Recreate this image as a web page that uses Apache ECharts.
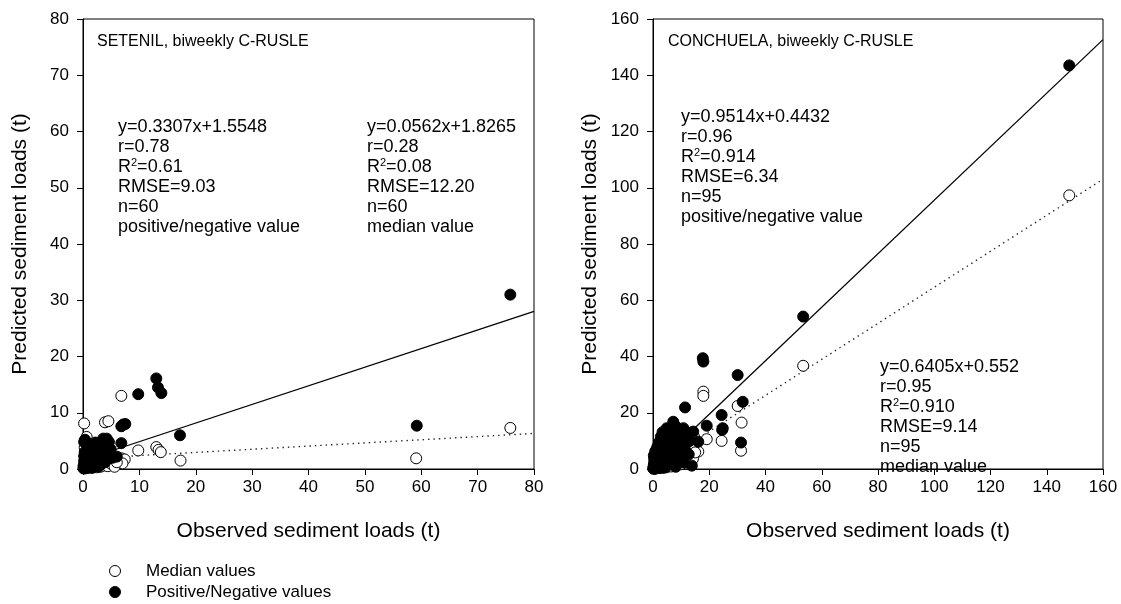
<!DOCTYPE html>
<html>
<head>
<meta charset="utf-8">
<script src="https://cdn.jsdelivr.net/npm/echarts@6/dist/echarts.min.js"></script>
<style>
  html, body { margin: 0; padding: 0; background: #fff; }
  #chart { width: 1121px; height: 604px; }
</style>
</head>
<body>
<div id="chart"></div>
<script>
// Observed vs. predicted sediment loads (t), two catchments, biweekly C-RUSLE

// --- SETENIL: median-value predictions [observed, predicted]
const setenilMedian = [
  [75.8, 7.3], [59.1, 1.9], [17.3, 1.5], [13.0, 3.9], [13.4, 3.4], [13.8, 3.0],
  [9.8, 3.3], [6.8, 13.0], [6.8, 1.9], [7.4, 1.7], [3.9, 8.3], [4.5, 8.5],
  [0.2, 8.1], [0.65, 5.7], [3.3, 0.7], [7.0, 1.0],
  [0.1, 0.2], [0.2, 0.5], [0.3, 0.1], [0.4, 1.1], [0.5, 0.3], [0.6, 2.0], [0.7, 0.6], [0.8, 1.5],
  [0.9, 0.2], [1.0, 3.0], [1.1, 0.8], [1.2, 0.4], [1.3, 2.4], [1.4, 1.0], [1.5, 0.3], [1.6, 1.8],
  [1.7, 0.6], [1.8, 3.5], [1.9, 1.2], [2.0, 0.5], [2.1, 2.2], [2.2, 0.9], [2.3, 1.6], [2.4, 0.3],
  [2.5, 2.8], [2.6, 1.1], [2.8, 0.7], [3.0, 1.9], [3.1, 0.4], [3.2, 2.5], [3.4, 1.3], [3.6, 0.6],
  [3.8, 3.1], [4.0, 1.0], [4.2, 2.0], [4.4, 0.5], [4.6, 1.5], [4.8, 2.6], [5.0, 0.9], [5.3, 1.8],
  [5.6, 0.4], [6.0, 1.2], [0.3, 3.8], [0.5, 4.6]
];

// --- SETENIL: positive/negative-value predictions [observed, predicted]
const setenilPosNeg = [
  [75.8, 31.0], [59.2, 7.7], [17.2, 6.0], [13.0, 16.1], [13.3, 14.5], [13.9, 13.5],
  [9.8, 13.3], [6.8, 7.6], [7.1, 7.9], [7.5, 8.0], [6.8, 4.6], [6.0, 2.2],
  [0.35, 5.2], [3.6, 5.4], [4.2, 5.4], [1.8, 4.0], [0.2, 4.8],
  [0.1, 0.1], [0.1, 0.6], [0.2, 1.4], [0.2, 2.3], [0.3, 0.3], [0.3, 3.0], [0.4, 1.0], [0.5, 0.5],
  [0.5, 1.9], [0.6, 2.8], [0.7, 0.2], [0.7, 1.3], [0.8, 3.6], [0.9, 0.7], [1.0, 2.1], [1.1, 0.4],
  [1.2, 1.6], [1.3, 3.2], [1.4, 0.9], [1.5, 2.5], [1.6, 0.2], [1.7, 1.2], [1.9, 2.9], [2.0, 0.6],
  [2.1, 1.8], [2.3, 3.4], [2.4, 1.0], [2.6, 2.2], [2.7, 0.4], [2.9, 1.5], [3.0, 3.7], [3.2, 0.8],
  [3.3, 2.7], [3.5, 1.9], [3.7, 4.4], [3.9, 1.2], [4.1, 3.0], [4.3, 2.3], [4.6, 4.8], [4.9, 3.5],
  [5.2, 2.0], [0.9, 4.5], [2.2, 4.7]
];

// --- CONCHUELA: median-value predictions [observed, predicted]
const conchuelaMedian = [
  [148, 97.3], [53.4, 36.7], [17.9, 27.5], [17.9, 26.0], [30.1, 22.4], [31.5, 16.5],
  [31.3, 6.5], [24.4, 10.0], [19.1, 10.6], [16.1, 6.2], [14.9, 9.1], [1.9, 7.0],
  [0.2, 0.1], [0.3, 0.5], [0.4, 1.2], [0.5, 0.3], [0.6, 2.0], [0.7, 0.8], [0.8, 0.2], [0.9, 1.5], [1.0, 3.1], [1.1, 0.6],
  [1.2, 2.4], [1.3, 0.4], [1.4, 1.0], [1.5, 4.0], [1.6, 1.8], [1.7, 0.3], [1.8, 2.9], [2.0, 0.9], [2.1, 5.2], [2.2, 1.4],
  [2.3, 0.5], [2.5, 3.3], [2.6, 2.1], [2.7, 0.7], [2.9, 4.6], [3.0, 1.2], [3.1, 6.0], [3.3, 2.6], [3.4, 0.4], [3.6, 3.8],
  [3.7, 1.6], [3.9, 5.5], [4.0, 0.8], [4.2, 2.9], [4.3, 7.2], [4.5, 1.9], [4.7, 4.3], [4.8, 0.6], [5.0, 3.4], [5.2, 6.4],
  [5.3, 2.2], [5.5, 8.3], [5.7, 1.1], [5.9, 4.9], [6.0, 3.0], [6.2, 7.6], [6.4, 0.9], [6.6, 5.6], [6.8, 2.5], [7.0, 9.2],
  [7.2, 4.1], [7.4, 1.4], [7.6, 6.8], [7.8, 3.2], [8.0, 10.1], [8.2, 5.0], [8.4, 2.0], [8.6, 7.9], [8.8, 4.4], [9.0, 11.3],
  [9.3, 3.0], [9.5, 6.1], [9.8, 8.8], [10.0, 1.7], [10.3, 5.3], [10.6, 12.0], [10.9, 7.4], [11.2, 3.9], [11.5, 9.7], [11.8, 6.3],
  [12.1, 2.6], [12.4, 10.8], [12.7, 8.1], [13.0, 4.8], [13.4, 12.6], [13.8, 7.0], [14.2, 3.6], [14.6, 11.4], [15.0, 5.9], [0.4, 3.6],
  [0.9, 5.1], [1.6, 6.3], [2.4, 8.0], [3.2, 9.4]
];

// --- CONCHUELA: positive/negative-value predictions [observed, predicted]
const conchuelaPosNeg = [
  [148, 143.5], [53.4, 54.2], [17.7, 39.4], [17.9, 38.2], [30.1, 33.4], [31.9, 23.9],
  [11.4, 21.9], [24.4, 19.2], [24.8, 14.5], [24.6, 13.9], [19.1, 15.4], [31.3, 9.4],
  [13.8, 1.2], [16.1, 9.7], [14.3, 13.3], [7.2, 16.8], [4.9, 14.5], [10.8, 14.5], [4.4, 12.7],
  [0.1, 0.2], [0.2, 0.8], [0.3, 1.6], [0.4, 0.4], [0.5, 2.5], [0.6, 1.1], [0.7, 0.1], [0.8, 3.2], [0.9, 0.6], [1.0, 1.9],
  [1.2, 0.3], [1.3, 2.8], [1.4, 1.2], [1.6, 4.1], [1.7, 0.7], [1.8, 2.2], [2.0, 5.0], [2.1, 1.5], [2.3, 0.4], [2.4, 3.6],
  [2.6, 6.2], [2.7, 2.0], [2.9, 0.9], [3.0, 4.7], [3.2, 7.5], [3.3, 1.3], [3.5, 3.0], [3.6, 9.0], [3.8, 5.8], [3.9, 0.5],
  [4.1, 10.4], [4.2, 2.4], [4.4, 6.9], [4.6, 11.8], [4.7, 4.0], [4.9, 1.0], [5.1, 8.2], [5.2, 13.0], [5.4, 3.3], [5.6, 9.9],
  [5.8, 6.0], [5.9, 11.2], [6.1, 1.8], [6.3, 12.4], [6.5, 7.3], [6.7, 4.5], [6.9, 10.7], [7.1, 13.6], [7.3, 2.8], [7.5, 8.6],
  [7.7, 5.4], [7.9, 11.9], [8.1, 0.8], [8.3, 9.5], [8.5, 14.8], [8.7, 6.7], [8.9, 3.6], [9.1, 12.2], [9.4, 7.9], [9.7, 10.3],
  [10.0, 4.9], [10.3, 13.4], [10.6, 8.4], [10.9, 2.3], [11.2, 11.0], [11.5, 6.6], [11.9, 9.2], [12.3, 12.8], [12.7, 5.2], [13.1, 10.0],
  [0.3, 4.8], [0.8, 6.3], [1.5, 7.8], [2.2, 9.6], [2.8, 11.5], [3.4, 13.1]
];

// Regression fits: [slope, intercept]
const setenilFitPosNeg = [0.3307, 1.5548];
const setenilFitMedian = [0.0562, 1.8265];
const conchuelaFitPosNeg = [0.9514, 0.4432];
const conchuelaFitMedian = [0.6405, 0.552];

// Fit statistics printed in each panel
const setenilStatsPosNeg = { eq: 'y=0.3307x+1.5548', r: '0.78', r2: '0.61', rmse: '9.03', n: '60', what: 'positive/negative value' };
const setenilStatsMedian = { eq: 'y=0.0562x+1.8265', r: '0.28', r2: '0.08', rmse: '12.20', n: '60', what: 'median value' };
const conchuelaStatsPosNeg = { eq: 'y=0.9514x+0.4432', r: '0.96', r2: '0.914', rmse: '6.34', n: '95', what: 'positive/negative value' };
const conchuelaStatsMedian = { eq: 'y=0.6405x+0.552', r: '0.95', r2: '0.910', rmse: '9.14', n: '95', what: 'median value' };

// Axis ranges: [max, interval]
const setenilAxis = [80, 10];
const conchuelaAxis = [160, 20];

const panelTitles = ['SETENIL, biweekly C-RUSLE', 'CONCHUELA, biweekly C-RUSLE'];
const xAxisTitle = 'Observed sediment loads (t)';
const yAxisTitle = 'Predicted sediment loads (t)';
const seriesNames = ['Median values', 'Positive/Negative values'];

const FONT = "'Liberation Sans', Arial, Helvetica, sans-serif";
const TXT = 17;
const NOTE = 18;

function fitLine(fit, xmax) {
  return [[0, fit[1]], [xmax, fit[0] * xmax + fit[1]]];
}

function statsText(s) {
  return [
    s.eq,
    'r=' + s.r,
    'R{sup|2}=' + s.r2,
    'RMSE=' + s.rmse,
    'n=' + s.n,
    s.what
  ].join('\n');
}

function statsGraphic(s, left, top) {
  return {
    type: 'text', left: left, top: top, z: 100,
    style: {
      text: statsText(s),
      fill: '#000',
      font: NOTE + 'px ' + FONT,
      lineHeight: 20,
      rich: {
        sup: { fontSize: 11, fontFamily: FONT, verticalAlign: 'top', lineHeight: 12, fill: '#000' }
      }
    }
  };
}

function makeXAxis(idx, ax) {
  return {
    gridIndex: idx, type: 'value', min: 0, max: ax[0], interval: ax[1],
    name: xAxisTitle, nameLocation: 'middle', nameGap: 52,
    nameTextStyle: { fontFamily: FONT, fontSize: 21, color: '#000' },
    axisLine: { show: true, onZero: false, lineStyle: { color: '#000', width: 1 } },
    axisTick: { show: true, inside: false, length: 6, lineStyle: { color: '#000' } },
    axisLabel: { fontFamily: FONT, fontSize: TXT, color: '#000', margin: 10 },
    splitLine: { show: false }
  };
}

function makeYAxis(idx, ax) {
  return {
    gridIndex: idx, type: 'value', min: 0, max: ax[0], interval: ax[1],
    name: yAxisTitle, nameLocation: 'middle', nameGap: 52,
    nameTextStyle: { fontFamily: FONT, fontSize: 21, color: '#000' },
    axisLine: { show: true, onZero: false, lineStyle: { color: '#000', width: 1 } },
    axisTick: { show: true, inside: false, length: 6, lineStyle: { color: '#000' } },
    axisLabel: { fontFamily: FONT, fontSize: TXT, color: '#000', margin: 14 },
    splitLine: { show: false }
  };
}

const openStyle = { color: '#fff', borderColor: '#000', borderWidth: 1, opacity: 1 };
const filledStyle = { color: '#000', borderColor: '#000', borderWidth: 1, opacity: 1 };

function scatter(name, idx, data, style) {
  return {
    name: name, type: 'scatter', xAxisIndex: idx, yAxisIndex: idx,
    data: data, symbol: 'circle', symbolSize: 11,
    itemStyle: style, emphasis: { disabled: true }, animation: false
  };
}

function line(idx, data, dotted) {
  return {
    type: 'line', xAxisIndex: idx, yAxisIndex: idx, data: data,
    symbol: 'none', silent: true, animation: false, z: 1,
    lineStyle: dotted
      ? { color: '#222', width: 1.4, type: [1.4, 4] }
      : { color: '#000', width: 1.3, type: 'solid' }
  };
}

// Key below the left panel: symbol + label per series
function keyEntry(name, style, cy) {
  return [
    { type: 'circle', z: 100, shape: { cx: 115, cy: cy, r: 5.5 },
      style: { fill: style.color, stroke: '#000', lineWidth: 1 } },
    { type: 'text', z: 100, x: 146, y: cy,
      style: { text: name, fill: '#000', font: TXT + 'px ' + FONT, verticalAlign: 'middle' } }
  ];
}

const chart = echarts.init(document.getElementById('chart'), null, { renderer: 'canvas' });

chart.setOption({
  backgroundColor: '#fff',
  animation: false,
  textStyle: { fontFamily: FONT },
  grid: [
    { left: 83, top: 19, width: 451, height: 450, show: true, borderColor: '#000', borderWidth: 1, backgroundColor: 'transparent' },
    { left: 653, top: 19, width: 450, height: 450, show: true, borderColor: '#000', borderWidth: 1, backgroundColor: 'transparent' }
  ],
  xAxis: [makeXAxis(0, setenilAxis), makeXAxis(1, conchuelaAxis)],
  yAxis: [makeYAxis(0, setenilAxis), makeYAxis(1, conchuelaAxis)],
  series: [
    line(0, fitLine(setenilFitPosNeg, setenilAxis[0]), false),
    line(0, fitLine(setenilFitMedian, setenilAxis[0]), true),
    line(1, fitLine(conchuelaFitPosNeg, conchuelaAxis[0]), false),
    line(1, fitLine(conchuelaFitMedian, conchuelaAxis[0]), true),
    scatter(seriesNames[0], 0, setenilMedian, openStyle),
    scatter(seriesNames[1], 0, setenilPosNeg, filledStyle),
    scatter(seriesNames[0], 1, conchuelaMedian, openStyle),
    scatter(seriesNames[1], 1, conchuelaPosNeg, filledStyle)
  ],
  graphic: [
    { type: 'text', left: 97, top: 34, z: 100, style: { text: panelTitles[0], fill: '#000', font: '16px ' + FONT } },
    { type: 'text', left: 668, top: 34, z: 100, style: { text: panelTitles[1], fill: '#000', font: '16px ' + FONT } },
    statsGraphic(setenilStatsPosNeg, 118, 117),
    statsGraphic(setenilStatsMedian, 367, 117),
    statsGraphic(conchuelaStatsPosNeg, 681, 107),
    statsGraphic(conchuelaStatsMedian, 880, 357)
  ].concat(
    keyEntry(seriesNames[0], openStyle, 571),
    keyEntry(seriesNames[1], filledStyle, 592)
  )
});
</script>
</body>
</html>
